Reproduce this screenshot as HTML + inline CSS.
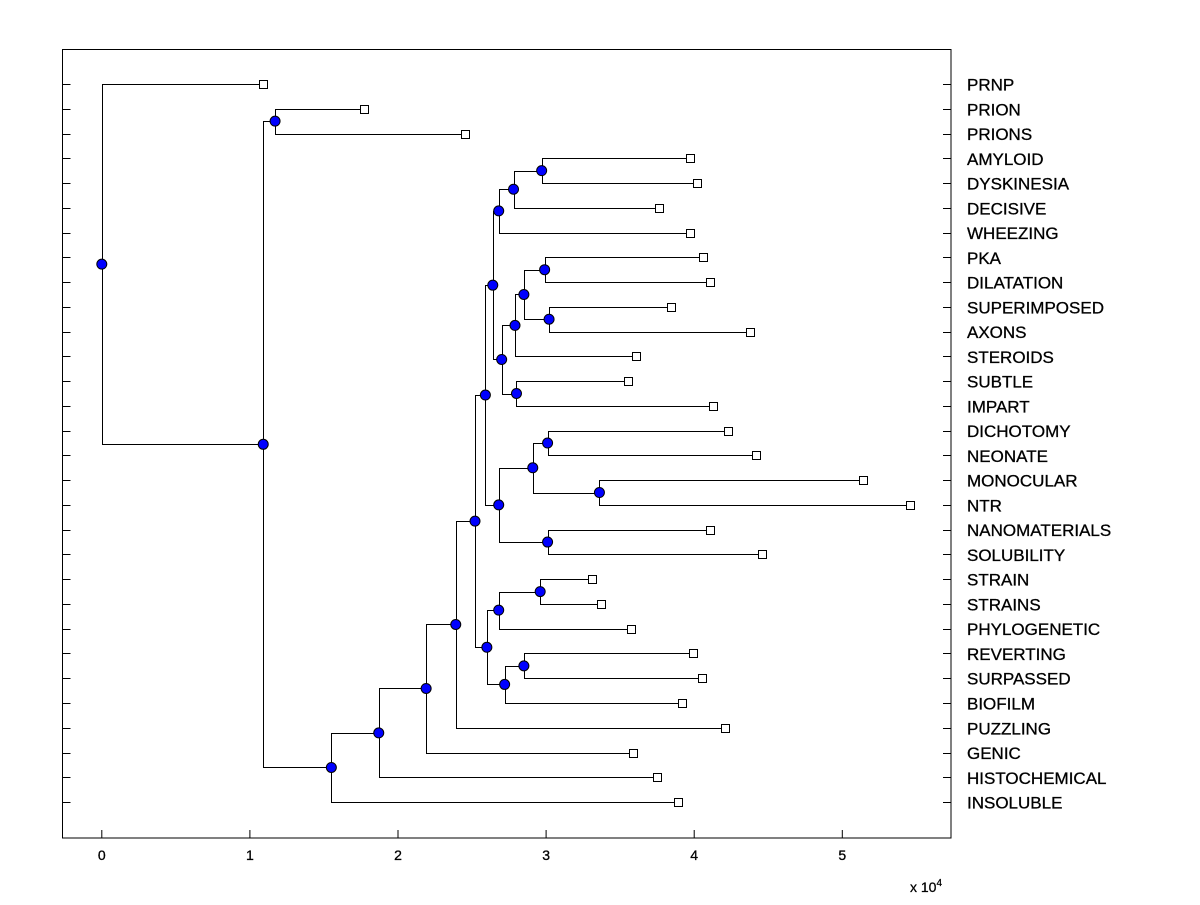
<!DOCTYPE html>
<html><head><meta charset="utf-8"><style>
body{margin:0;background:#fff;}
svg text{font-family:"Liberation Sans",Arial,sans-serif;}
</style></head><body>
<svg id="chart" width="1200" height="900" viewBox="0 0 1200 900" xmlns="http://www.w3.org/2000/svg">
<rect x="0" y="0" width="1200" height="900" fill="#fff"/>
<rect x="62.5" y="49.5" width="888.5" height="788.5" fill="#fff" stroke="#000" stroke-width="1"/>
<g id="axes"></g>
<g id="edges"></g>
<g id="marks"></g>
<text x="910" y="892" font-size="14" stroke="#000" stroke-width="0.25">x 10<tspan dy="-6" font-size="10">4</tspan></text>
</svg>
<script>
const leafNames = ["PRNP","PRION","PRIONS","AMYLOID","DYSKINESIA","DECISIVE","WHEEZING","PKA","DILATATION","SUPERIMPOSED","AXONS","STEROIDS","SUBTLE","IMPART","DICHOTOMY","NEONATE","MONOCULAR","NTR","NANOMATERIALS","SOLUBILITY","STRAIN","STRAINS","PHYLOGENETIC","REVERTING","SURPASSED","BIOFILM","PUZZLING","GENIC","HISTOCHEMICAL","INSOLUBLE"];
const leafDist = [1.09,1.77,2.45,3.97,4.02,3.76,3.97,4.06,4.11,3.84,4.38,3.61,3.55,4.13,4.23,4.42,5.14,5.46,4.11,4.46,3.31,3.37,3.57,3.99,4.05,3.92,4.21,3.59,3.75,3.89];
const nodeNames = ["root","A","prionNode","B","C","D","E","F","G","H","I","J","K","L","M","N","P","Q","R","S","T","U","V","W","X","Y","Z","AA","AB"];
const nodeDist = [0,1.09,1.17,1.55,1.87,2.19,2.39,2.52,2.59,2.60,2.64,2.68,2.68,2.70,2.78,2.97,2.79,2.80,2.85,2.99,3.02,2.91,3.01,3.01,3.36,2.68,2.72,2.96,2.85];
const nodeKids = [["PRNP","A"],["prionNode","B"],["PRION","PRIONS"],["C","INSOLUBLE"],["D","HISTOCHEMICAL"],["E","GENIC"],["F","PUZZLING"],["G","H"],["I","J"],["Y","Z"],["K","L"],["U","V"],["M","WHEEZING"],["P","Q"],["N","DECISIVE"],["AMYLOID","DYSKINESIA"],["R","STEROIDS"],["SUBTLE","IMPART"],["S","T"],["PKA","DILATATION"],["SUPERIMPOSED","AXONS"],["W","X"],["NANOMATERIALS","SOLUBILITY"],["DICHOTOMY","NEONATE"],["MONOCULAR","NTR"],["AA","PHYLOGENETIC"],["AB","BIOFILM"],["STRAIN","STRAINS"],["REVERTING","SURPASSED"]];
const xTicks = [0,1,2,3,4,5];

const NS="http://www.w3.org/2000/svg";
const xs = v => 101.8 + v*148.1;
const ys = i => 84 + i*24.76;
function mk(tag, parent, attrs){const e=document.createElementNS(NS,tag);for(const k in attrs)e.setAttribute(k,attrs[k]);parent.appendChild(e);return e;}
const gA=document.getElementById('axes'), gE=document.getElementById('edges'), gM=document.getElementById('marks');

xTicks.forEach(t=>{
  const l=mk('line',gA,{x1:xs(t),x2:xs(t),y1:838,y2:830,stroke:'#000'});
  
  
  const tx=mk('text',gA,{x:xs(t),y:860,'font-size':14,'text-anchor':'middle',stroke:'#000','stroke-width':0.3});
  tx.textContent=t;
  
  
});
leafNames.forEach((n,i)=>{
  const y=Math.round(ys(i))+0.5;
  mk('line',gA,{x1:62.5,x2:70.5,y1:y,y2:y,stroke:'#000'});
  mk('line',gA,{x1:943,x2:951,y1:y,y2:y,stroke:'#000'});
  const tx=mk('text',gA,{x:967,y:ys(i)+6.5,'font-size':17,stroke:'#000','stroke-width':0.3});
  tx.textContent=n;
  
  
});

const pos={};
leafNames.forEach((n,i)=>{pos[n]={x:xs(leafDist[i]),y:ys(i),leaf:true};});
function getPos(name){
  if(pos[name])return pos[name];
  const k=nodeNames.indexOf(name);
  const a=getPos(nodeKids[k][0]), b=getPos(nodeKids[k][1]);
  pos[name]={x:xs(nodeDist[k]),y:(a.y+b.y)/2,leaf:false};
  return pos[name];
}
nodeNames.forEach(getPos);
nodeNames.forEach((n,k)=>{
  const p=pos[n];
  const kids=nodeKids[k].map(c=>pos[c]);
  const px=Math.round(p.x)+0.5;
  const p1=mk('path',gE,{d:`M${kids[0].x},${Math.round(kids[0].y)+0.5}H${px}V${Math.round(kids[1].y)+0.5}H${kids[1].x}`,fill:'none',stroke:'#000','stroke-width':1});
  
  
});
leafNames.forEach(n=>{
  const p=pos[n];
  const r=mk('rect',gM,{x:Math.round(p.x)-4+0.5,y:Math.round(p.y)-4+0.5,width:8,height:8,fill:'#fff',stroke:'#000'});
  
  
});
nodeNames.forEach(n=>{
  const p=pos[n];
  const c=mk('circle',gM,{cx:p.x,cy:p.y,r:5,fill:'#0000ff',stroke:'#000','stroke-width':1});
  
  
});
</script>
</body></html>
